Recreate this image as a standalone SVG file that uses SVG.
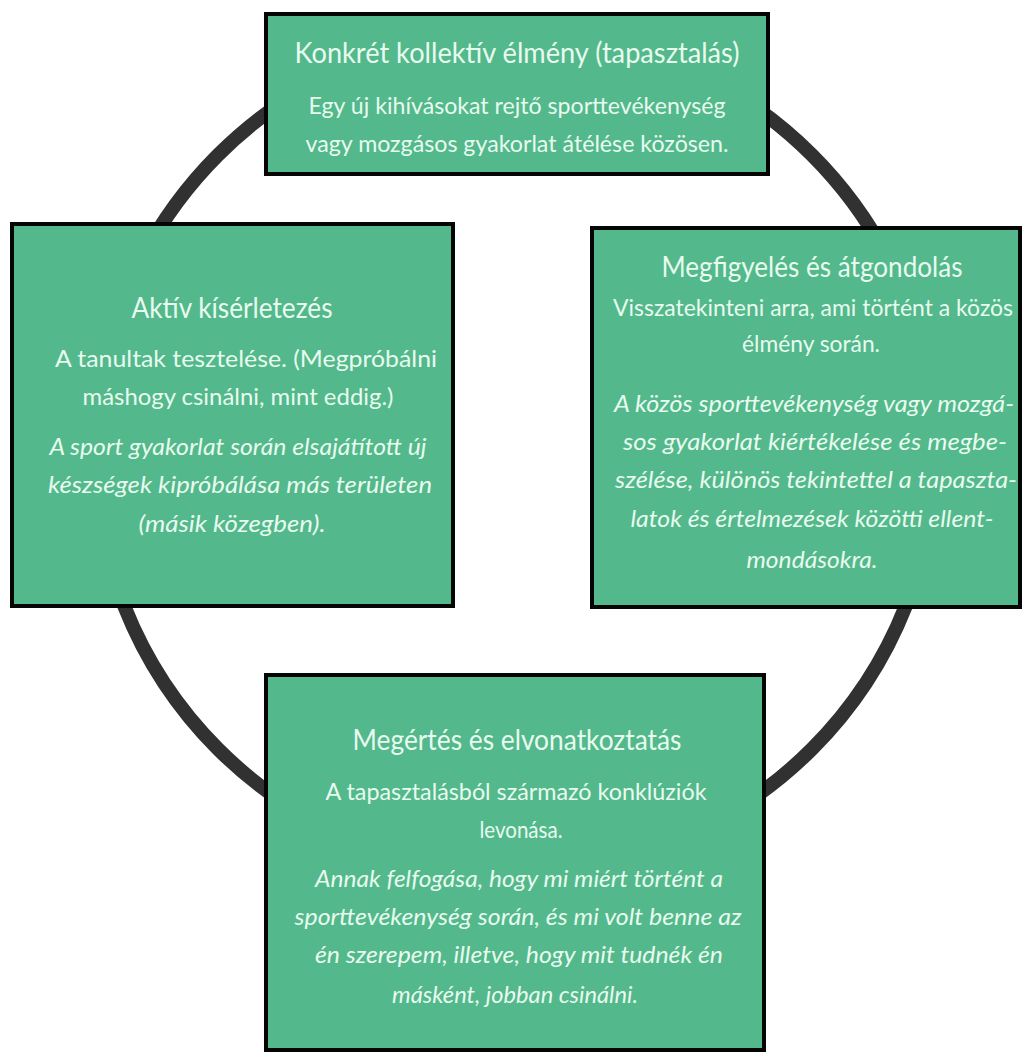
<svg xmlns="http://www.w3.org/2000/svg" width="1022" height="1052" viewBox="0 0 1022 1052">
<style>
.box{fill:#53b88b;stroke:#050505;stroke-width:4}
.ring{fill:none;stroke:#313131;stroke-width:14}
text{font-family:Lato,"Open Sans","Liberation Sans",sans-serif;fill:#e8fbef;text-anchor:middle}
.t{font-size:28px}
.b{font-size:23.5px}
.i{font-size:23.5px;font-style:italic}
</style>
<rect width="1022" height="1052" fill="#ffffff"/>
<g id="connectors">
<circle class="ring" cx="515" cy="452" r="420"/>
</g>
<g id="node-top">
<rect class="box" x="266" y="14" width="502" height="160"/>
<text class="t" x="517" y="63" textLength="445" lengthAdjust="spacingAndGlyphs">Konkrét kollektív élmény (tapasztalás)</text>
<text class="b" x="517" y="114" textLength="417" lengthAdjust="spacingAndGlyphs">Egy új kihívásokat rejtő sporttevékenység</text>
<text class="b" x="517" y="152" textLength="423" lengthAdjust="spacingAndGlyphs">vagy mozgásos gyakorlat átélése közösen.</text>
</g>
<g id="node-left">
<rect class="box" x="12" y="224" width="441" height="382"/>
<text class="t" x="232" y="318" textLength="201" lengthAdjust="spacingAndGlyphs">Aktív kísérletezés</text>
<text class="b" x="246" y="367" textLength="382" lengthAdjust="spacingAndGlyphs">A tanultak tesztelése. (Megpróbálni</text>
<text class="b" x="238" y="405" textLength="311" lengthAdjust="spacingAndGlyphs">máshogy csinálni, mint eddig.)</text>
<text class="i" x="238" y="455" textLength="377" lengthAdjust="spacingAndGlyphs">A sport gyakorlat során elsajátított új</text>
<text class="i" x="240" y="493" textLength="384" lengthAdjust="spacingAndGlyphs">készségek kipróbálása más területen</text>
<text class="i" x="232" y="532" textLength="187" lengthAdjust="spacingAndGlyphs">(másik közegben).</text>
</g>
<g id="node-right">
<rect class="box" x="592" y="228" width="428" height="379"/>
<text class="t" x="812" y="277" textLength="301" lengthAdjust="spacingAndGlyphs">Megfigyelés és átgondolás</text>
<text class="b" x="813" y="316" textLength="400" lengthAdjust="spacingAndGlyphs">Visszatekinteni arra, ami történt a közös</text>
<text class="b" x="811" y="352" textLength="138" lengthAdjust="spacingAndGlyphs">élmény során.</text>
<text class="i" x="814" y="412" textLength="400" lengthAdjust="spacingAndGlyphs">A közös sporttevékenység vagy mozgá-</text>
<text class="i" x="815" y="450" textLength="384" lengthAdjust="spacingAndGlyphs">sos gyakorlat kiértékelése és megbe-</text>
<text class="i" x="816" y="488" textLength="402" lengthAdjust="spacingAndGlyphs">szélése, különös tekintettel a tapaszta-</text>
<text class="i" x="812" y="527" textLength="363" lengthAdjust="spacingAndGlyphs">latok és értelmezések közötti ellent-</text>
<text class="i" x="812" y="568" textLength="131" lengthAdjust="spacingAndGlyphs">mondásokra.</text>
</g>
<g id="node-bottom">
<rect class="box" x="266" y="675" width="498" height="375"/>
<text class="t" x="517" y="750" textLength="329" lengthAdjust="spacingAndGlyphs">Megértés és elvonatkoztatás</text>
<text class="b" x="516" y="800" textLength="381" lengthAdjust="spacingAndGlyphs">A tapasztalásból származó konklúziók</text>
<text class="b" x="521" y="838" textLength="83" lengthAdjust="spacingAndGlyphs">levonása.</text>
<text class="i" x="519" y="887" textLength="408" lengthAdjust="spacingAndGlyphs">Annak felfogása, hogy mi miért történt a</text>
<text class="i" x="518" y="925" textLength="447" lengthAdjust="spacingAndGlyphs">sporttevékenység során, és mi volt benne az</text>
<text class="i" x="519" y="963" textLength="408" lengthAdjust="spacingAndGlyphs">én szerepem, illetve, hogy mit tudnék én</text>
<text class="i" x="515" y="1003" textLength="246" lengthAdjust="spacingAndGlyphs">másként, jobban csinálni.</text>
</g>
</svg>
